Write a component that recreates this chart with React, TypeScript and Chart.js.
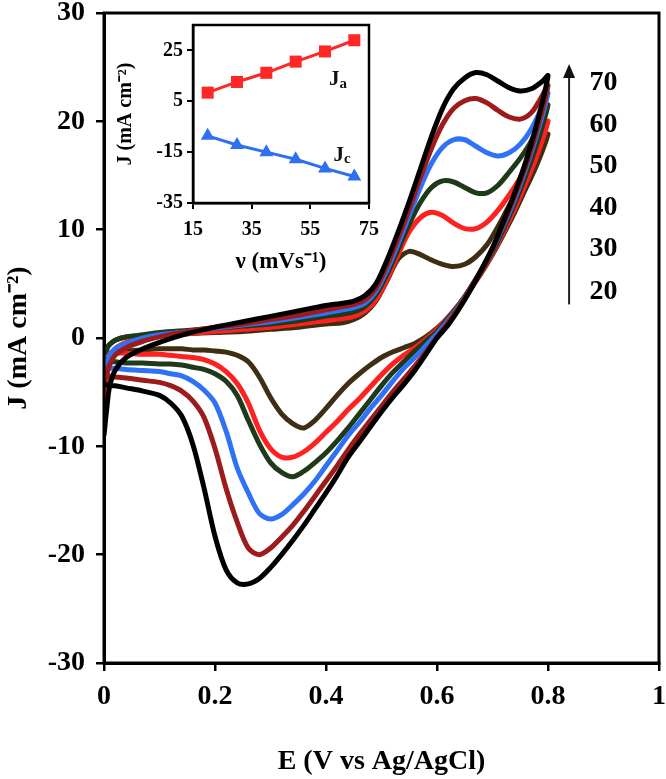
import React, { useEffect, useRef } from "react";
import { Chart, registerables } from "chart.js";

Chart.register(...registerables);

const SERIF = '"Liberation Serif", "Times New Roman", serif';

// ---------- main CV data ----------
const SCAN_RATES = [20, 30, 40, 50, 60, 70];
const CURVE_COLORS = ["#3f2f12", "#ff2020", "#1f3a18", "#2f72f5", "#9e1b1b", "#000000"];

const X_TICKS = [0, 0.2, 0.4, 0.6, 0.8, 1];
const Y_TICKS = [-30, -20, -10, 0, 10, 20, 30];

// potentials of the anodic (forward) sweep
const E_FWD = [0, 0.005, 0.01, 0.02, 0.04, 0.07, 0.1, 0.15, 0.2, 0.25, 0.3, 0.35, 0.4, 0.43, 0.45, 0.47, 0.49, 0.51, 0.53, 0.55, 0.57, 0.59, 0.61, 0.63, 0.65, 0.67, 0.69, 0.71, 0.73, 0.75, 0.77, 0.79, 0.8];
// potentials of the cathodic (reverse) sweep
const E_REV = [0.8, 0.78, 0.76, 0.74, 0.72, 0.7, 0.68, 0.66, 0.64, 0.62, 0.6, 0.58, 0.56, 0.54, 0.52, 0.5, 0.48, 0.46, 0.44, 0.42, 0.4, 0.38, 0.36, 0.34, 0.32, 0.3, 0.28, 0.26, 0.24, 0.22, 0.2, 0.18, 0.16, 0.14, 0.12, 0.1, 0.07, 0.04, 0.02, 0];

const J20_FWD = [-1.5, -1.0, -0.6, -0.2, 0.1, 0.2, 0.3, 0.4, 0.5, 0.6, 0.8, 1.0, 1.3, 1.4, 1.7, 2.3, 3.4, 5.3, 7.3, 8.0, 7.7, 7.2, 6.8, 6.6, 6.8, 7.5, 8.6, 10.3, 12.2, 14.0, 15.9, 17.9, 18.8];
const J20_REV = [18.8, 16.0, 13.8, 11.6, 9.6, 7.7, 6.0, 4.5, 3.1, 1.9, 0.9, 0.1, -0.5, -0.9, -1.3, -1.8, -2.5, -3.3, -4.2, -5.3, -6.5, -7.6, -8.3, -7.9, -7.0, -5.5, -3.6, -2.2, -1.6, -1.3, -1.2, -1.1, -1.1, -1.0, -1.0, -1.0, -1.1, -1.2, -1.3, -1.5];

const J30_FWD = [-7.5, -4.0, -2.0, -1.0, -0.4, 0.0, 0.2, 0.4, 0.6, 0.8, 1.0, 1.3, 1.6, 1.8, 2.0, 2.5, 3.5, 5.4, 7.7, 9.8, 11.1, 11.6, 11.3, 10.6, 10.1, 10.1, 10.7, 11.8, 13.2, 14.8, 16.6, 18.9, 20.0];
const J30_REV = [20.0, 16.8, 14.3, 11.9, 9.8, 7.8, 6.1, 4.5, 3.1, 1.9, 0.8, -0.1, -0.9, -1.6, -2.4, -3.4, -4.5, -5.6, -6.6, -7.7, -8.7, -9.7, -10.5, -11.0, -11.0, -10.2, -8.5, -6.0, -4.2, -3.1, -2.4, -2.0, -1.8, -1.7, -1.6, -1.5, -1.5, -1.4, -1.4, -1.5];

const J40_FWD = [-1.5, -1.0, -0.6, -0.2, 0.1, 0.3, 0.5, 0.7, 0.9, 1.1, 1.3, 1.6, 2.0, 2.2, 2.4, 2.9, 4.0, 5.9, 8.2, 10.5, 12.5, 13.9, 14.5, 14.4, 13.9, 13.4, 13.4, 14.1, 15.3, 16.6, 18.2, 20.5, 21.5];
const J40_REV = [21.5, 17.9, 15.0, 12.4, 10.1, 8.0, 6.2, 4.6, 3.1, 1.8, 0.6, -0.3, -1.2, -2.2, -3.2, -4.4, -5.7, -7.0, -8.3, -9.5, -10.6, -11.5, -12.3, -12.8, -12.4, -11.5, -9.8, -7.6, -5.3, -4.0, -3.3, -2.9, -2.7, -2.5, -2.4, -2.4, -2.3, -2.3, -2.2, -2.2];

const J50_FWD = [-3.0, -2.2, -1.6, -1.0, -0.5, 0.0, 0.3, 0.6, 0.9, 1.2, 1.5, 1.9, 2.3, 2.6, 2.8, 3.2, 4.3, 6.3, 8.7, 11.3, 13.9, 16.1, 17.6, 18.3, 18.3, 17.7, 17.1, 16.8, 17.1, 17.9, 19.3, 21.4, 22.6];
const J50_REV = [22.6, 18.8, 15.6, 12.8, 10.4, 8.2, 6.3, 4.6, 3.0, 1.6, 0.4, -0.7, -1.8, -2.8, -4.0, -5.3, -6.5, -7.8, -9.0, -10.4, -11.8, -13.2, -14.4, -15.4, -16.3, -16.7, -16.2, -14.3, -12.0, -8.6, -6.0, -4.8, -4.0, -3.5, -3.3, -3.1, -3.0, -2.9, -2.8, -2.8];

const J60_FWD = [-4.5, -3.2, -2.5, -1.6, -0.9, -0.3, 0.1, 0.6, 1.0, 1.3, 1.7, 2.1, 2.6, 2.9, 3.1, 3.5, 4.6, 6.7, 9.2, 11.9, 14.8, 17.5, 19.7, 21.2, 21.9, 22.1, 21.7, 21.0, 20.4, 20.2, 20.8, 22.4, 23.3];
const J60_REV = [23.3, 19.2, 15.9, 13.1, 10.6, 8.3, 6.3, 4.6, 2.9, 1.4, 0.1, -1.3, -2.6, -3.8, -5.0, -6.3, -7.6, -8.9, -10.3, -11.8, -13.2, -14.6, -16.0, -17.3, -18.4, -19.4, -20.0, -19.4, -17.0, -13.9, -10.2, -7.3, -5.8, -4.9, -4.4, -4.1, -3.9, -3.7, -3.6, -3.5];

const J70_FWD = [-9.0, -6.5, -4.5, -3.0, -1.8, -1.0, -0.4, 0.4, 1.0, 1.5, 2.0, 2.5, 3.0, 3.2, 3.4, 3.9, 5.0, 7.2, 9.8, 12.6, 15.6, 18.6, 21.2, 23.0, 24.0, 24.5, 24.3, 23.7, 23.1, 22.8, 23.0, 23.7, 24.2];
const J70_REV = [24.2, 19.8, 16.3, 13.4, 10.8, 8.3, 6.3, 4.4, 2.7, 1.2, 0.0, -1.5, -3.0, -4.3, -5.5, -6.8, -8.2, -9.6, -11.0, -12.7, -14.3, -15.8, -17.3, -18.7, -20.0, -21.2, -22.2, -22.7, -22.6, -21.4, -18.3, -13.8, -9.8, -7.2, -6.0, -5.3, -4.9, -4.6, -4.4, -4.3];

const J_FWD = [J20_FWD, J30_FWD, J40_FWD, J50_FWD, J60_FWD, J70_FWD];
const J_REV = [J20_REV, J30_REV, J40_REV, J50_REV, J60_REV, J70_REV];

// scan-rate annotation (right side): label positions in data units
const RATE_LABEL_X = 0.9;
const RATE_LABEL_Y = [4.3, 8.2, 12.0, 15.9, 19.7, 23.6];
const ARROW_X = 0.838;
const ARROW_Y = [3.1, 25.3];

// ---------- inset data ----------
const INSET_RATE = [20, 30, 40, 50, 60, 70];
const INSET_JA = [8.4, 12.6, 16.2, 20.6, 24.6, 29.0];
const INSET_JC = [-8.6, -12.2, -15.0, -17.8, -21.4, -24.6];
const INSET_X_TICKS = [15, 35, 55, 75];
const INSET_Y_TICKS = [-35, -15, 5, 25];
const JA_LABEL = { x: 64.4, y: 13.4, sub: "a" };
const JC_LABEL = { x: 65.8, y: -16.2, sub: "c" };

const font = (size: number) => ({ family: SERIF, size, weight: "bold" as const, lineHeight: 1 });

const fmt = (v: number) => String(Number(Number(v).toFixed(2)));

const noPad = (s: any) => {
  s.paddingTop = 0;
  s.paddingBottom = 0;
  s.paddingLeft = 0;
  s.paddingRight = 0;
};

const framePlugin = (width: number) => ({
  id: "frame",
  afterDatasetsDraw(chart: any) {
    const { ctx, chartArea: a } = chart;
    ctx.save();
    ctx.strokeStyle = "#000";
    ctx.lineWidth = width;
    ctx.strokeRect(a.left, a.top, a.right - a.left, a.bottom - a.top);
    ctx.restore();
  },
});

const rateAnnotationPlugin = {
  id: "rateAnnotation",
  afterDraw(chart: any) {
    const { ctx, scales } = chart;
    const xs = scales.x;
    const ys = scales.y;
    ctx.save();
    const ax = xs.getPixelForValue(ARROW_X);
    const y0 = ys.getPixelForValue(ARROW_Y[0]);
    const y1 = ys.getPixelForValue(ARROW_Y[1]);
    ctx.strokeStyle = "#222";
    ctx.fillStyle = "#111";
    ctx.lineWidth = 2;
    ctx.beginPath();
    ctx.moveTo(ax, y0);
    ctx.lineTo(ax, y1 + 10);
    ctx.stroke();
    ctx.beginPath();
    ctx.moveTo(ax, y1);
    ctx.lineTo(ax - 6, y1 + 14);
    ctx.lineTo(ax + 6, y1 + 14);
    ctx.closePath();
    ctx.fill();
    ctx.font = `bold 28px ${SERIF}`;
    ctx.fillStyle = "#000";
    ctx.textAlign = "center";
    ctx.textBaseline = "middle";
    SCAN_RATES.forEach((r, i) => {
      ctx.fillText(String(r), xs.getPixelForValue(RATE_LABEL_X), ys.getPixelForValue(RATE_LABEL_Y[i]));
    });
    ctx.restore();
  },
};

const insetLabelPlugin = {
  id: "insetLabels",
  afterDraw(chart: any) {
    const { ctx, scales } = chart;
    ctx.save();
    ctx.fillStyle = "#111";
    ctx.textBaseline = "middle";
    ctx.textAlign = "left";
    [JA_LABEL, JC_LABEL].forEach((l) => {
      const px = scales.x.getPixelForValue(l.x);
      const py = scales.y.getPixelForValue(l.y);
      ctx.font = `bold 21px ${SERIF}`;
      const wJ = ctx.measureText("J").width;
      ctx.font = `bold 15px ${SERIF}`;
      const wS = ctx.measureText(l.sub).width;
      const start = px - (wJ + wS) / 2;
      ctx.font = `bold 21px ${SERIF}`;
      ctx.fillText("J", start, py);
      ctx.font = `bold 15px ${SERIF}`;
      ctx.fillText(l.sub, start + wJ, py + 4);
    });
    ctx.restore();
  },
};

export default function App() {
  const mainRef = useRef<HTMLCanvasElement | null>(null);
  const insetRef = useRef<HTMLCanvasElement | null>(null);

  useEffect(() => {
    if (!mainRef.current || !insetRef.current) return;

    const datasets = SCAN_RATES.map((rate, k) => ({
      label: `${rate} mV s-1`,
      data: [
        ...E_FWD.map((e, i) => ({ x: e, y: J_FWD[k][i] })),
        ...E_REV.slice(1).map((e, i) => ({ x: e, y: J_REV[k][i + 1] })),
      ],
      borderColor: CURVE_COLORS[k],
      backgroundColor: CURVE_COLORS[k],
      borderWidth: 5,
      showLine: true,
      pointRadius: 0,
      tension: 0.3,
      fill: false,
      order: SCAN_RATES.length - k,
    }));

    const main = new Chart(mainRef.current, {
      type: "scatter",
      data: { datasets },
      options: {
        animation: false,
        responsive: false,
        maintainAspectRatio: false,
        layout: { padding: { left: 5, top: 13, right: 7, bottom: 3 } },
        plugins: { legend: { display: false }, tooltip: { enabled: false } },
        scales: {
          x: {
            type: "linear",
            min: 0,
            max: 1,
            afterBuildTicks: (s: any) => {
              s.ticks = X_TICKS.map((v) => ({ value: v }));
            },
            ticks: { font: font(28), color: "#000", padding: 12, callback: (v: any) => fmt(v) },
            grid: { display: true, drawOnChartArea: false, drawTicks: true, tickLength: 8, color: "#000", lineWidth: 2.5 },
            border: { display: true, color: "#000", width: 3 },
            title: { display: true, text: "E (V vs Ag/AgCl)", font: font(28), color: "#000", padding: 0 },
            afterFit: (s: any) => {
              s.height = 113;
              noPad(s);
            },
          },
          y: {
            type: "linear",
            min: -30,
            max: 30,
            afterBuildTicks: (s: any) => {
              s.ticks = Y_TICKS.map((v) => ({ value: v }));
            },
            ticks: { font: font(28), color: "#000", padding: 11, callback: (v: any) => fmt(v) },
            grid: { display: true, drawOnChartArea: false, drawTicks: true, tickLength: 8, color: "#000", lineWidth: 2.5 },
            border: { display: true, color: "#000", width: 3 },
            title: { display: true, text: "J (mA cm\u207B\u00B2)", font: font(28), color: "#000", padding: 0 },
            afterFit: (s: any) => {
              s.width = 99;
              noPad(s);
            },
          },
        },
      },
      plugins: [framePlugin(3), rateAnnotationPlugin],
    } as any);

    const inset = new Chart(insetRef.current, {
      type: "scatter",
      data: {
        datasets: [
          {
            label: "Ja",
            data: INSET_RATE.map((r, i) => ({ x: r, y: INSET_JA[i] })),
            borderColor: "#ff2626",
            backgroundColor: "#ff2626",
            borderWidth: 3,
            showLine: true,
            pointStyle: "rect",
            pointRadius: 8.5,
            pointBorderWidth: 0,
          },
          {
            label: "Jc",
            data: INSET_RATE.map((r, i) => ({ x: r, y: INSET_JC[i] })),
            borderColor: "#2f6ff2",
            backgroundColor: "#2f6ff2",
            borderWidth: 3,
            showLine: true,
            pointStyle: "triangle",
            pointRadius: 8,
            pointBorderWidth: 0,
          },
        ],
      },
      options: {
        animation: false,
        responsive: false,
        maintainAspectRatio: false,
        layout: { padding: { left: 6, top: 10, right: 11, bottom: 6 } },
        plugins: { legend: { display: false }, tooltip: { enabled: false } },
        scales: {
          x: {
            type: "linear",
            min: 15,
            max: 75,
            afterBuildTicks: (s: any) => {
              s.ticks = INSET_X_TICKS.map((v) => ({ value: v }));
            },
            ticks: { font: font(20), color: "#000", padding: 11, callback: (v: any) => fmt(v) },
            grid: { display: true, drawOnChartArea: false, drawTicks: true, tickLength: 6, color: "#000", lineWidth: 2 },
            border: { display: true, color: "#000", width: 2.5 },
            title: { display: true, text: "\u03BD (mVs\u207B\u00B9)", font: font(23), color: "#000", padding: 0 },
            afterFit: (s: any) => {
              s.height = 71;
              noPad(s);
            },
          },
          y: {
            type: "linear",
            min: -35,
            max: 35,
            afterBuildTicks: (s: any) => {
              s.ticks = INSET_Y_TICKS.map((v) => ({ value: v }));
            },
            ticks: { font: font(20), color: "#000", padding: 4, callback: (v: any) => fmt(v) },
            grid: { display: true, drawOnChartArea: false, drawTicks: true, tickLength: 6, color: "#000", lineWidth: 2 },
            border: { display: true, color: "#000", width: 2.5 },
            title: { display: true, text: "J (mA cm\u207B\u00B2)", font: font(20), color: "#000", padding: 0 },
            afterFit: (s: any) => {
              s.width = 77;
              noPad(s);
            },
          },
        },
      },
      plugins: [framePlugin(2.5), insetLabelPlugin],
    } as any);

    return () => {
      main.destroy();
      inset.destroy();
    };
  }, []);

  return (
    <div style={{ position: "absolute", left: 0, top: 0, width: 666, height: 779, background: "#fff" }}>
      <canvas ref={mainRef} width={666} height={779} style={{ position: "absolute", left: 0, top: 0, width: 666, height: 779 }} />
      <canvas ref={insetRef} width={270} height={265} style={{ position: "absolute", left: 110, top: 15, width: 270, height: 265 }} />
    </div>
  );
}
